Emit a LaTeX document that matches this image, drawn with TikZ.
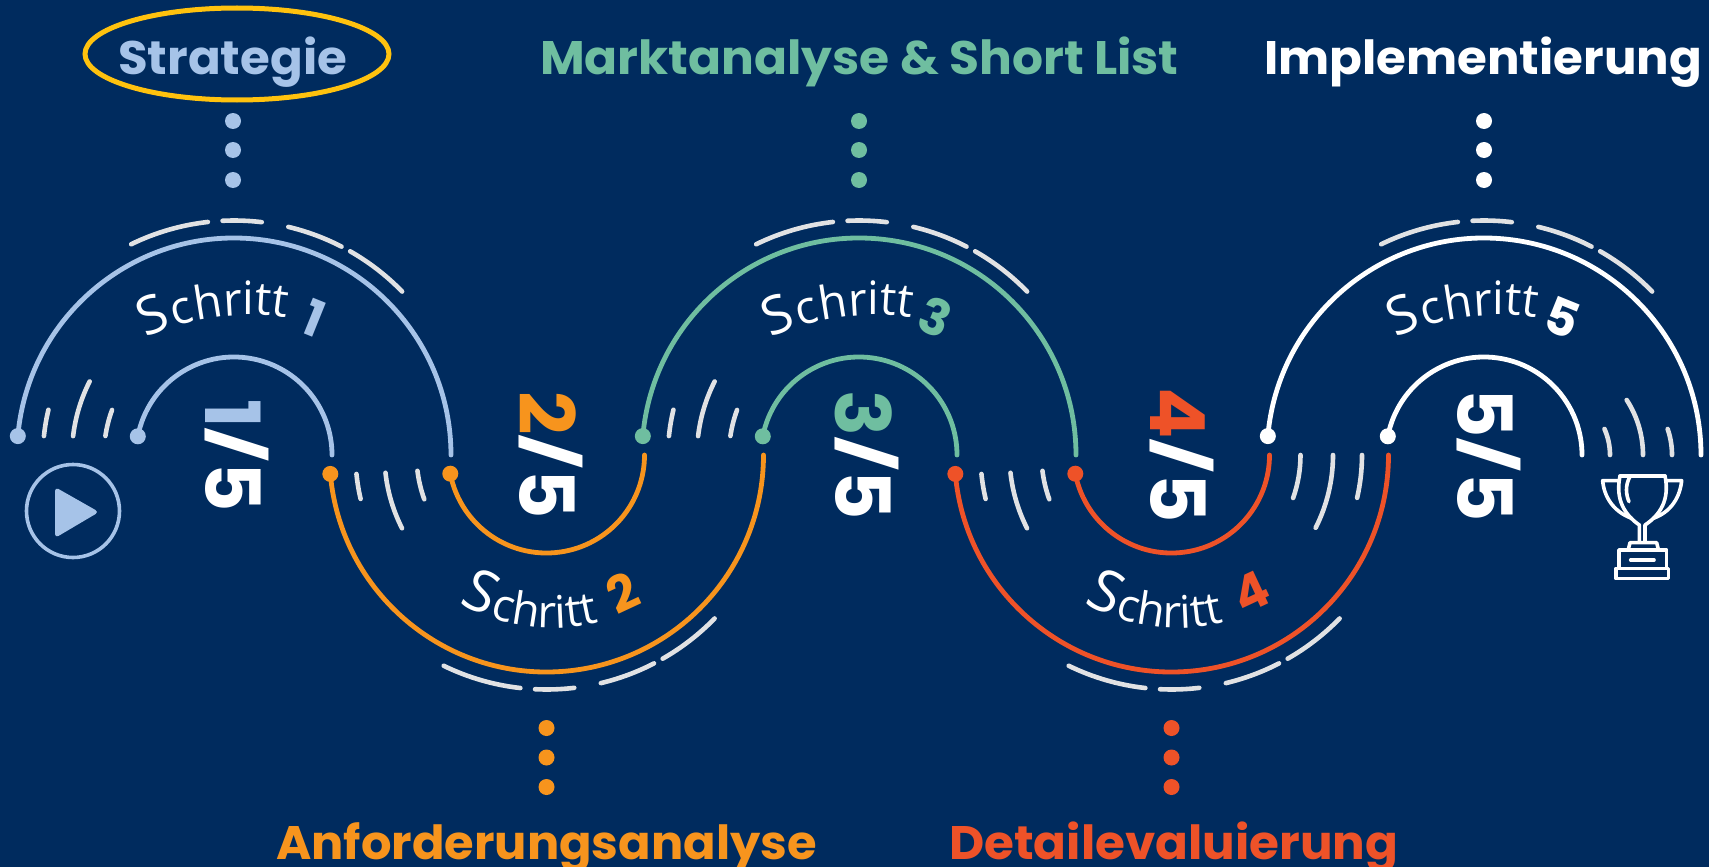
\documentclass[tikz,border=0pt]{standalone}
\usepackage{fontspec}
\usepackage{graphicx}
\usetikzlibrary{calc,shapes.geometric,decorations.text}
\setmainfont{Poppins}
\newfontfamily\schrittfont{Open Sans}
\newfontfamily\schrittwide[LetterSpace=6]{Open Sans}
\definecolor{bgblue}{HTML}{002B5E}
\definecolor{stepa}{HTML}{A6C3E8}
\definecolor{stepb}{HTML}{F7941D}
\definecolor{stepc}{HTML}{6FBEA0}
\definecolor{stepd}{HTML}{EE5228}
\definecolor{stepe}{HTML}{FFFFFF}
\definecolor{tickgray}{HTML}{E1E2E4}
\definecolor{ringyellow}{HTML}{FFC20E}
\tikzset{
  lineband/.style={line width=4.8pt,line cap=round},
  tickline/.style={line width=4.6pt,line cap=round,color=tickgray},
  enddot/.style={circle,inner sep=0pt,minimum size=16pt},
  leaderdot/.style={circle,inner sep=0pt,minimum size=16pt},
  titletext/.style={inner sep=0pt,anchor=base west,font=\bfseries\fontsize{47}{47}\selectfont},
  fractext/.style={inner sep=0pt,anchor=base,rotate=-90,font=\bfseries\fontsize{76}{76}\selectfont,text=white},
  digittext/.style={inner sep=0pt,anchor=center,font=\bfseries\fontsize{50}{50}\selectfont},
}
\newcommand{\wider}[2][1.036]{\scalebox{#1}[1]{#2}}
\newcommand{\fslash}{\raisebox{10pt}{\scalebox{1}[0.74]{/}}}
% arch above: centre, colour, tag
\newcommand{\archup}[3]{%
  \node[enddot,fill=#2] (#3o) at ($(#1)+(175:217pt)$) {};
  \node[enddot,fill=#2] (#3i) at ($(#1)+(169:98pt)$) {};
  \draw[lineband,#2] (#3o.center) arc[start angle=175,end angle=0,radius=217pt];
  \draw[lineband,#2] (#3i.center) arc[start angle=169,end angle=0,radius=98pt];
  \foreach \sa/\ea in {116/96.4,92.8/83.2,76.6/62.7,60.3/44.2}
    {\draw[tickline] (#1) ++(\sa:234.5pt) arc[start angle=\sa,end angle=\ea,radius=234.5pt];}
}
\newcommand{\archdown}[3]{%
  \node[enddot,fill=#2] (#3o) at ($(#1)+(185:217pt)$) {};
  \node[enddot,fill=#2] (#3i) at ($(#1)+(191:98pt)$) {};
  \draw[lineband,#2] (#3o.center) arc[start angle=185,end angle=360,radius=217pt];
  \draw[lineband,#2] (#3i.center) arc[start angle=191,end angle=360,radius=98pt];
  \foreach \sa/\ea in {116/96.4,92.8/83.2,76.6/62.7,60.3/44.2}
    {\draw[tickline] (#1) ++(-\sa:234.5pt) arc[start angle=-\sa,end angle=-\ea,radius=234.5pt];}
}
\newcommand{\ticksleftup}[1]{%
  \foreach \r/\sa/\ea in {191/174.3/166.3,162/173.3/153,130/171.6/159.7}
    {\draw[tickline] (#1) ++(\sa:\r pt) arc[start angle=\sa,end angle=\ea,radius=\r pt];}
}
\newcommand{\ticksleftdown}[1]{%
  \foreach \r/\sa/\ea in {191/185.7/193.3,162/186.3/206.9,130/187/199.9}
    {\draw[tickline] (#1) ++(\sa:\r pt) arc[start angle=\sa,end angle=\ea,radius=\r pt];}
}
\newcommand{\leaderdots}[5]{% x, y1, y2, y3, colour
  \node[leaderdot,fill=#5] at (#1,#2) {};
  \node[leaderdot,fill=#5] at (#1,#3) {};
  \node[leaderdot,fill=#5] at (#1,#4) {};
}
\newcommand{\schrittup}[1]{%
  \path[decorate,decoration={text along path,text align=center,text color=white,
     text={|\schrittfont\fontsize{53}{53}\selectfont|S||
           |\schrittfont\fontsize{46}{46}\selectfont|chritt}}]
     ($(#1)+(14,100)$) ++(132:240pt) arc[start angle=132,end angle=64,radius=240pt];
}
\newcommand{\schrittdown}[1]{%
  \path[decorate,decoration={text along path,text align=center,text color=white,
     text={|\schrittwide\fontsize{58}{58}\selectfont|S||
           |\schrittwide\fontsize{45}{45}\selectfont|chritt}}]
     ($(#1)+(6.5,-17)$) ++(228:190pt) arc[start angle=228,end angle=296,radius=190pt];
}
\begin{document}
\begin{tikzpicture}[x=1pt,y=-1pt]
\useasboundingbox (0,0) rectangle (1709,867);
\fill[bgblue] (0,0) rectangle (1709,867);
\coordinate (ca) at (234,455);
\coordinate (cb) at (546.5,455);
\coordinate (cc) at (859,455);
\coordinate (cd) at (1171.5,455);
\coordinate (ce) at (1484,455);

\archup{ca}{stepa}{a}
\archdown{cb}{stepb}{b}
\archup{cc}{stepc}{c}
\archdown{cd}{stepd}{d}
\archup{ce}{stepe}{e}

\ticksleftup{ca}
\ticksleftdown{cb}
\ticksleftup{cc}
\ticksleftdown{cd}
% ticks right of arch 4
\foreach \r/\ea in {129/-19.5,161.5/-26.8,190.5/-13}
  {\draw[tickline] (cd) ++(0:\r pt) arc[start angle=0,end angle=\ea,radius=\r pt];}
% ticks right of arch 5
\draw[tickline] (1610,455) arc[start angle=0,end angle=24,radius=64pt];
\draw[tickline] (1643,455) arc[start angle=0,end angle=33,radius=101pt];
\draw[tickline] (1672,455) arc[start angle=0,end angle=19,radius=80pt];

\leaderdots{233}{121}{150}{180}{stepa}
\leaderdots{546.5}{728}{757.5}{787}{stepb}
\leaderdots{859}{121}{150}{180}{stepc}
\leaderdots{1171.5}{728}{757.5}{787}{stepd}
\leaderdots{1484}{121}{150}{180}{stepe}

\node[titletext,text=stepa] (tstrategie) at (118,74.5) {\wider[1.027]{Strategie}};
\node[titletext,text=stepc] (tmarkt) at (540,74.5) {\wider{Marktanalyse \& Short List}};
\node[titletext,text=stepe] (timpl) at (1264,74.5) {\wider[1.028]{Implementierung}};
\node[titletext,text=stepb] (tanf) at (276,859) {\wider[1.02]{Anforderungsanalyse}};
\node[titletext,text=stepd] (tdetail) at (949,859) {\wider[1.03]{Detailevaluierung}};
\node[ellipse,draw=ringyellow,line width=5pt,minimum width=304pt,minimum height=92pt,inner sep=0pt] (ring) at (237,54) {};

\node[fractext] (fa) at (205,455.5) {\textcolor{stepa}{1}\fslash 5};
\node[fractext] (fb) at (519,455) {\textcolor{stepb}{2}\fslash 5};
\node[fractext] (fc) at (835,455) {\textcolor{stepc}{3}\fslash 5};
\node[fractext] (fd) at (1150,455) {\textcolor{stepd}{4}\fslash 5};
\node[fractext] (fe) at (1457,455) {\textcolor{stepe}{5}\fslash 5};

\schrittup{ca}
\schrittdown{cb}
\schrittup{cc}
\schrittdown{cd}
\schrittup{ce}
\node[digittext,text=stepa,rotate=-22] (na) at (314,318) {1};
\node[digittext,text=stepb,rotate=25] (nb) at (623,593) {2};
\node[digittext,text=stepc,rotate=-22] (nc) at (935,317) {3};
\node[digittext,text=stepd,rotate=25] (nd) at (1251,592) {4};
\node[digittext,text=stepe,rotate=-22] (ne) at (1562,318) {5};

% play icon
\node[circle,draw=stepa,line width=3.6pt,minimum size=93pt,inner sep=0pt] (play) at (73,511) {};
\fill[stepa,rounded corners=4pt] (55,487) -- (55,538) -- (99,512) -- cycle;

% trophy
\begin{scope}[shift={(1380,200)},x=0.33333pt,y=-0.33333pt,line width=3.6pt,white,line cap=round,line join=round]
  \draw (720,828) -- (855,828);
  \draw (720,828) .. controls (705,900) and (735,945) .. (778,975) -- (778,1025);
  \draw (855,828) .. controls (870,900) and (840,945) .. (795,975) -- (795,1025);
  \draw (715,842) -- (668,842) .. controls (672,890) and (700,935) .. (755,955);
  \draw (860,842) -- (905,842) .. controls (900,890) and (875,935) .. (820,955);
  \draw (750,830) .. controls (735,855) and (738,885) .. (747,905);
  \draw (745,1048) -- (750,1028) -- (830,1028) -- (835,1048);
  \draw (717,1050) rectangle (860,1105);
  \draw (752,1080) -- (822,1080);
  \draw (708,1105) rectangle (866,1136);
\end{scope}
\end{tikzpicture}
\end{document}
